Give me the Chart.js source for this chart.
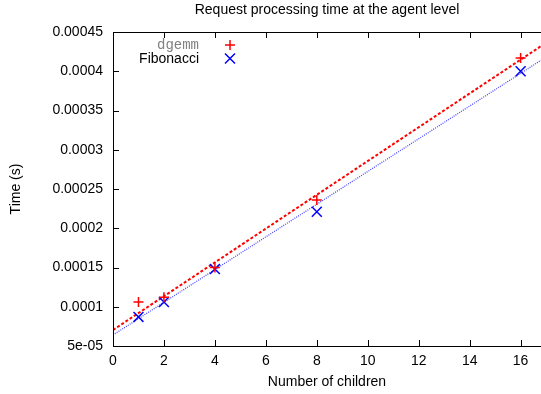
<!DOCTYPE html>
<html>
<head>
<meta charset="utf-8">
<script src="https://cdn.jsdelivr.net/npm/chart.js@4/dist/chart.umd.min.js"></script>
<style>
html,body{margin:0;padding:0;background:#fff;}
#wrap{width:541px;height:394px;position:relative;}
</style>
</head>
<body>
<div id="wrap"><canvas id="c" width="541" height="394"></canvas></div>
<script>
// Data
const children = [1, 2, 4, 8, 16];
const dgemmTimes = [0.000106, 0.000112, 0.000150, 0.000236, 0.000417];
const fibTimes = [0.000087, 0.000106, 0.000148, 0.000221, 0.000400];
// fitted lines (end points)
const fitX = [0, 16.8];
const dgemmFit = [0.0000704, 0.000432];
const fibFit = [0.0000640, 0.000414];
const yTickLabels = ['5e-05','0.0001','0.00015','0.0002','0.00025','0.0003','0.00035','0.0004','0.00045'];
const xTickLabels = ['0','2','4','6','8','10','12','14','16'];
const titleText = 'Request processing time at the agent level';
const xTitle = 'Number of children';
const yTitle = 'Time (s)';
const seriesNames = ['dgemm', 'Fibonacci'];

const pts = (xs, ys) => xs.map((x, i) => ({x: x, y: ys[i]}));
const FONT = "'Liberation Sans', Arial, sans-serif";

const framePlugin = {
  id: 'frame',
  afterDraw(chart) {
    const {ctx, chartArea: a, scales} = chart;
    ctx.save();
    ctx.strokeStyle = '#000';
    ctx.lineWidth = 1;
    ctx.beginPath();
    ctx.moveTo(a.right + 0.5, a.top + 0.5);
    ctx.lineTo(Math.round(a.left) + 0.5, a.top + 0.5);
    ctx.lineTo(Math.round(a.left) + 0.5, Math.round(a.bottom) + 0.5);
    ctx.lineTo(a.right + 0.5, Math.round(a.bottom) + 0.5);
    ctx.stroke();
    const L = 6;
    ctx.beginPath();
    scales.x.ticks.forEach(t => {
      const px = Math.round(scales.x.getPixelForValue(t.value)) + 0.5;
      ctx.moveTo(px, a.bottom); ctx.lineTo(px, a.bottom - L);
      ctx.moveTo(px, a.top); ctx.lineTo(px, a.top + L);
    });
    scales.y.ticks.forEach(t => {
      const py = Math.round(scales.y.getPixelForValue(t.value)) + 0.5;
      ctx.moveTo(a.left, py); ctx.lineTo(a.left + L, py);
    });
    ctx.stroke();
    // legend
    ctx.textAlign = 'right';
    ctx.textBaseline = 'middle';
    ctx.font = "14px 'Liberation Mono', 'DejaVu Sans Mono', monospace";
    ctx.fillStyle = '#808080';
    ctx.fillText(seriesNames[0], 199, 45);
    ctx.font = '14px ' + FONT;
    ctx.fillStyle = '#000';
    ctx.fillText(seriesNames[1], 199, 59);
    ctx.lineWidth = 1.5;
    ctx.strokeStyle = '#ff0000';
    ctx.beginPath();
    ctx.moveTo(225, 45); ctx.lineTo(235, 45);
    ctx.moveTo(230, 40); ctx.lineTo(230, 50);
    ctx.stroke();
    ctx.strokeStyle = '#0000ff';
    ctx.beginPath();
    ctx.moveTo(225, 53.5); ctx.lineTo(235, 63.5);
    ctx.moveTo(235, 53.5); ctx.lineTo(225, 63.5);
    ctx.stroke();
    ctx.restore();
  }
};

new Chart(document.getElementById('c'), {
  type: 'scatter',
  data: {
    datasets: [
      {label: 'dgemm fit', data: pts(fitX, dgemmFit), showLine: true, pointRadius: 0,
       borderColor: '#ff0000', borderWidth: 2, borderDash: [3, 2], order: 2},
      {label: 'Fibonacci fit', data: pts(fitX, fibFit), showLine: true, pointRadius: 0,
       borderColor: '#4a4aff', borderWidth: 1.3, borderDash: [1, 1.2], order: 3},
      {label: seriesNames[0], data: pts(children, dgemmTimes), pointStyle: 'cross', pointRadius: 5,
       borderColor: '#ff0000', backgroundColor: '#ff0000', borderWidth: 1.5, order: 0},
      {label: seriesNames[1], data: pts(children, fibTimes), pointStyle: 'crossRot', pointRadius: 7,
       borderColor: '#0000ff', backgroundColor: '#0000ff', borderWidth: 1.5, order: 1}
    ]
  },
  options: {
    responsive: false,
    animation: false,
    layout: {autoPadding: false, padding: {left: 0, right: 0, top: 0, bottom: 0}},
    plugins: {
      legend: {display: false},
      tooltip: {enabled: false},
      title: {display: true, text: titleText, fullSize: false, color: '#000',
        font: {family: FONT, size: 14, weight: 'normal'}, padding: {top: 1.6, bottom: 13.6}}
    },
    scales: {
      x: {
        type: 'linear', min: 0, max: 16.8,
        grid: {display: false, drawTicks: false}, border: {display: false},
        ticks: {stepSize: 2, includeBounds: false, color: '#000', padding: 7, maxRotation: 0,
          font: {family: FONT, size: 14},
          callback: (v, i) => xTickLabels[i]},
        title: {display: true, text: xTitle, color: '#000', font: {family: FONT, size: 14},
          padding: {top: 0, bottom: 3}},
        afterFit: s => { s.height = 48; s.paddingLeft = 0; s.paddingRight = 0; }
      },
      y: {
        type: 'linear', min: 0.00005, max: 0.00045,
        grid: {display: false, drawTicks: false}, border: {display: false},
        ticks: {stepSize: 0.00005, color: '#000', padding: 10,
          font: {family: FONT, size: 14},
          callback: (v, i) => yTickLabels[i]},
        title: {display: true, text: yTitle, color: '#000', font: {family: FONT, size: 14},
          padding: {top: 8, bottom: 0}},
        afterFit: s => { s.width = 113; s.paddingTop = 0; s.paddingBottom = 0; }
      }
    }
  },
  plugins: [framePlugin]
});
</script>
</body>
</html>
